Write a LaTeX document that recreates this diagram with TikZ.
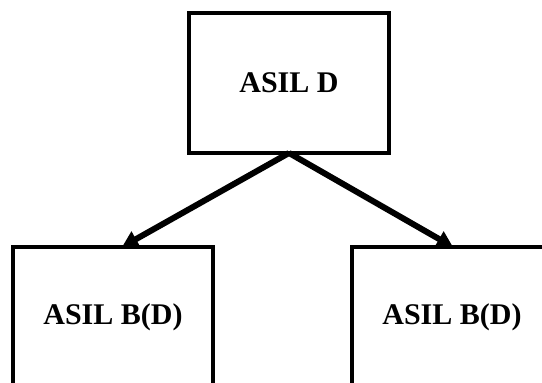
\documentclass[tikz,border=0pt]{standalone}
\usepackage{fontspec}
\setmainfont{Liberation Serif}
\usetikzlibrary{arrows.meta}
\begin{document}
\begin{tikzpicture}[x=1pt,y=1pt,
  box/.style={draw=black, line width=4pt, minimum width=200pt, minimum height=140pt, outer sep=0pt, inner sep=0pt, font=\fontsize{30}{36}\selectfont\bfseries},
  conn/.style={line width=6pt, -{Triangle[length=16pt,width=17pt]}}]
\useasboundingbox (0,0) rectangle (542,383);
\begin{scope}
\clip (0,0) rectangle (542,383);
\node[box] (top) at (289,300) {ASIL D};
\node[box] (bl) at (113,66) {ASIL B(D)};
\node[box] (br) at (452,66) {ASIL B(D)};
\draw[conn] (top.south) -- ([xshift=9pt]bl.north);
\draw[conn] (top.south) -- ([xshift=1pt]br.north);
\end{scope}
\end{tikzpicture}
\end{document}
